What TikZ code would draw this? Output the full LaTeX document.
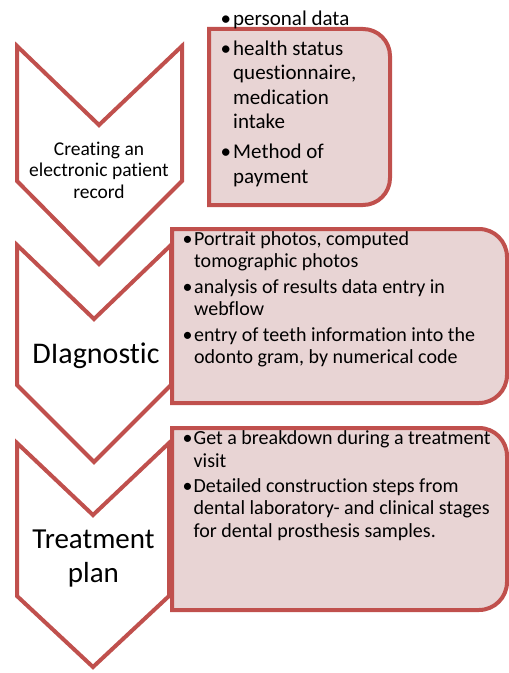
\documentclass[tikz,border=0pt]{standalone}
\usepackage{fontspec}
\setmainfont{Carlito}[Ligatures=NoCommon]
\definecolor{rd}{HTML}{C0504D}
\definecolor{pk}{HTML}{E8D4D4}
\newlength\bw
\newcommand\bit{\makebox[\bw][l]{\hspace*{-1.5bp}\textbullet}}
\newcommand\bin{\hspace*{\bw}}
\begin{document}
\begin{tikzpicture}[x=1bp,y=-1bp,
  chev/.style={draw=rd,line width=4bp,fill=white,miter limit=10},
  card/.style={draw=rd,line width=4bp,fill=pk},
  lbl/.style={inner sep=0,anchor=base,align=center},
  lst/.style={inner sep=0,anchor=base west,align=left}]
\useasboundingbox (0,0) rectangle (509,673);
% chevron 1 and box 1
\draw[chev] (17,46) -- (99,125) -- (182,46) -- (182,181) -- (99,264) -- (17,181) -- cycle;
\node[lbl,font=\fontsize{19.5bp}{21.5bp}\selectfont] (c1) at (99,198) {Creating an\\electronic patient\\record};
\draw[card] (209,29) -- (363,29) arc[start angle=-90,end angle=0,radius=27] -- (390,178) arc[start angle=0,end angle=90,radius=27] -- (209,205) -- cycle;
\node[lst,font=\fontsize{21bp}{24.5bp}\selectfont] (b1) at (222,183) {\setlength\bw{11bp}\bit personal data\\[5bp]
\setlength\bw{11bp}\bit health status\\ \setlength\bw{11bp}\bin questionnaire,\\ \setlength\bw{11bp}\bin medication\\ \setlength\bw{11bp}\bin intake\\[5bp]
\setlength\bw{11bp}\bit Method of\\ \setlength\bw{11bp}\bin payment};
% chevron 2 and box 2
\draw[chev] (17,245) -- (94,319) -- (171,245) -- (171,385) -- (94,462) -- (17,385) -- cycle;
\node[lbl,font=\fontsize{30bp}{34bp}\selectfont] (c2) at (96,363) {DIagnostic};
\draw[card] (172,229) -- (479,229) arc[start angle=-90,end angle=0,radius=28] -- (507,375) arc[start angle=0,end angle=90,radius=28] -- (172,403) -- cycle;
\node[lst,font=\fontsize{20bp}{21.5bp}\selectfont] (b2) at (184,363) {\setlength\bw{10bp}\bit Portrait photos, computed\\ \setlength\bw{10bp}\bin tomographic photos\\[5bp]
\setlength\bw{10bp}\bit analysis of results data entry in\\ \setlength\bw{10bp}\bin webflow\\[5bp]
\setlength\bw{10bp}\bit entry of teeth information into the\\ \setlength\bw{10bp}\bin odonto gram, by numerical code};
% chevron 3 and box 3
\draw[chev] (17,443) -- (93,515) -- (169,443) -- (169,596) -- (93,667) -- (17,596) -- cycle;
\node[lbl,font=\fontsize{29bp}{34bp}\selectfont] (c3) at (93.5,582) {Treatment\\plan};
\draw[card] (172,428) -- (479,428) arc[start angle=-90,end angle=0,radius=28] -- (507,582) arc[start angle=0,end angle=90,radius=28] -- (172,610) -- cycle;
\node[lst,font=\fontsize{20bp}{22.5bp}\selectfont] (b3) at (184,537) {\setlength\bw{9.5bp}\bit Get a breakdown during a treatment\\ \setlength\bw{9.5bp}\bin visit\\[2.5bp]
\setlength\bw{9.5bp}\bit Detailed construction steps from\\ \setlength\bw{9.5bp}\bin dental laboratory- and clinical stages\\ \setlength\bw{9.5bp}\bin for dental prosthesis samples.};
\end{tikzpicture}
\end{document}
